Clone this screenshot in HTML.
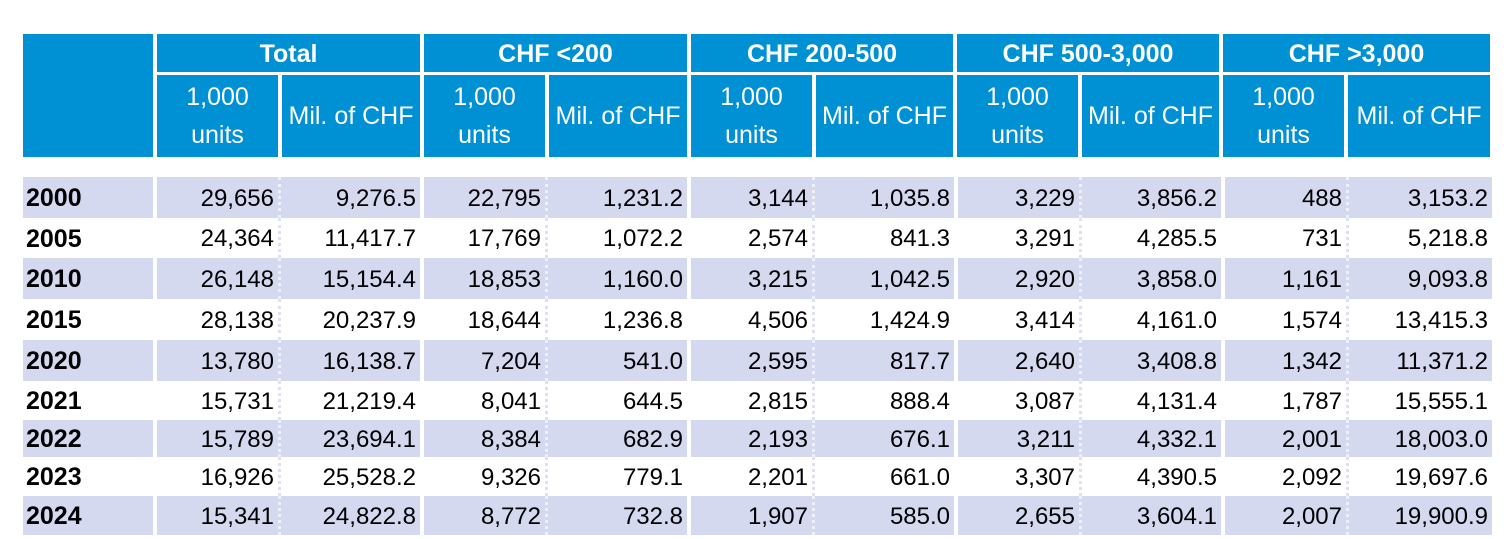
<!DOCTYPE html>
<html><head><meta charset="utf-8"><style>
body{margin:0;width:1508px;height:539px;background:#fff;position:relative;overflow:hidden;font-family:"Liberation Sans",Arial,sans-serif;}
.r{position:absolute;left:23px;display:flex;}
.r div{box-sizing:border-box;height:100%;display:flex;align-items:center;justify-content:flex-end;padding-right:4px;padding-top:2px;font-size:24px;color:#000;}
.r div.y{width:130px;justify-content:flex-start;padding-left:3px;font-weight:bold;font-size:25px;}
.a{width:125px;border-left:4px solid #fff;}
.b{width:142px;border-left:3px dotted #dde1f3;}
.b.l{width:146px;}
.s div{background:#d4d9f0;}
.s div.b{border-left-color:#eef0fa;}
.h{position:absolute;background:#0090d4;color:#fff;box-sizing:border-box;display:flex;align-items:center;justify-content:center;text-align:center;}
.g{font-weight:bold;font-size:25px;top:34px;height:38px;padding-top:3px;}
.u{top:75px;height:82px;font-size:25px;line-height:38px;}
</style></head><body>
<div class="h" style="left:23px;top:34px;width:130px;height:123px"></div>
<div class="h g" style="left:157px;width:263px">Total</div>
<div class="h g" style="left:424px;width:263px">CHF &lt;200</div>
<div class="h g" style="left:691px;width:262px">CHF 200-500</div>
<div class="h g" style="left:957px;width:262px">CHF 500-3,000</div>
<div class="h g" style="left:1223px;width:267px">CHF &gt;3,000</div>
<div class="h u" style="left:157px;width:121px">1,000<br>units</div>
<div class="h u" style="left:282px;width:138px">Mil. of CHF</div>
<div class="h u" style="left:424px;width:121px">1,000<br>units</div>
<div class="h u" style="left:549px;width:138px">Mil. of CHF</div>
<div class="h u" style="left:691px;width:121px">1,000<br>units</div>
<div class="h u" style="left:816px;width:137px">Mil. of CHF</div>
<div class="h u" style="left:957px;width:121px">1,000<br>units</div>
<div class="h u" style="left:1082px;width:137px">Mil. of CHF</div>
<div class="h u" style="left:1223px;width:121px">1,000<br>units</div>
<div class="h u" style="left:1348px;width:142px">Mil. of CHF</div>

<div class="r s" style="top:177px;height:41px"><div class="y">2000</div><div class="a">29,656</div><div class="b">9,276.5</div><div class="a">22,795</div><div class="b">1,231.2</div><div class="a">3,144</div><div class="b">1,035.8</div><div class="a">3,229</div><div class="b">3,856.2</div><div class="a">488</div><div class="b l">3,153.2</div></div>
<div class="r" style="top:218px;height:40px"><div class="y">2005</div><div class="a">24,364</div><div class="b">11,417.7</div><div class="a">17,769</div><div class="b">1,072.2</div><div class="a">2,574</div><div class="b">841.3</div><div class="a">3,291</div><div class="b">4,285.5</div><div class="a">731</div><div class="b l">5,218.8</div></div>
<div class="r s" style="top:258px;height:41px"><div class="y">2010</div><div class="a">26,148</div><div class="b">15,154.4</div><div class="a">18,853</div><div class="b">1,160.0</div><div class="a">3,215</div><div class="b">1,042.5</div><div class="a">2,920</div><div class="b">3,858.0</div><div class="a">1,161</div><div class="b l">9,093.8</div></div>
<div class="r" style="top:299px;height:41px"><div class="y">2015</div><div class="a">28,138</div><div class="b">20,237.9</div><div class="a">18,644</div><div class="b">1,236.8</div><div class="a">4,506</div><div class="b">1,424.9</div><div class="a">3,414</div><div class="b">4,161.0</div><div class="a">1,574</div><div class="b l">13,415.3</div></div>
<div class="r s" style="top:340px;height:41px"><div class="y">2020</div><div class="a">13,780</div><div class="b">16,138.7</div><div class="a">7,204</div><div class="b">541.0</div><div class="a">2,595</div><div class="b">817.7</div><div class="a">2,640</div><div class="b">3,408.8</div><div class="a">1,342</div><div class="b l">11,371.2</div></div>
<div class="r" style="top:381px;height:39px"><div class="y">2021</div><div class="a">15,731</div><div class="b">21,219.4</div><div class="a">8,041</div><div class="b">644.5</div><div class="a">2,815</div><div class="b">888.4</div><div class="a">3,087</div><div class="b">4,131.4</div><div class="a">1,787</div><div class="b l">15,555.1</div></div>
<div class="r s" style="top:420px;height:37px"><div class="y">2022</div><div class="a">15,789</div><div class="b">23,694.1</div><div class="a">8,384</div><div class="b">682.9</div><div class="a">2,193</div><div class="b">676.1</div><div class="a">3,211</div><div class="b">4,332.1</div><div class="a">2,001</div><div class="b l">18,003.0</div></div>
<div class="r" style="top:457px;height:39px"><div class="y">2023</div><div class="a">16,926</div><div class="b">25,528.2</div><div class="a">9,326</div><div class="b">779.1</div><div class="a">2,201</div><div class="b">661.0</div><div class="a">3,307</div><div class="b">4,390.5</div><div class="a">2,092</div><div class="b l">19,697.6</div></div>
<div class="r s" style="top:496px;height:39px"><div class="y">2024</div><div class="a">15,341</div><div class="b">24,822.8</div><div class="a">8,772</div><div class="b">732.8</div><div class="a">1,907</div><div class="b">585.0</div><div class="a">2,655</div><div class="b">3,604.1</div><div class="a">2,007</div><div class="b l">19,900.9</div></div>
</body></html>
